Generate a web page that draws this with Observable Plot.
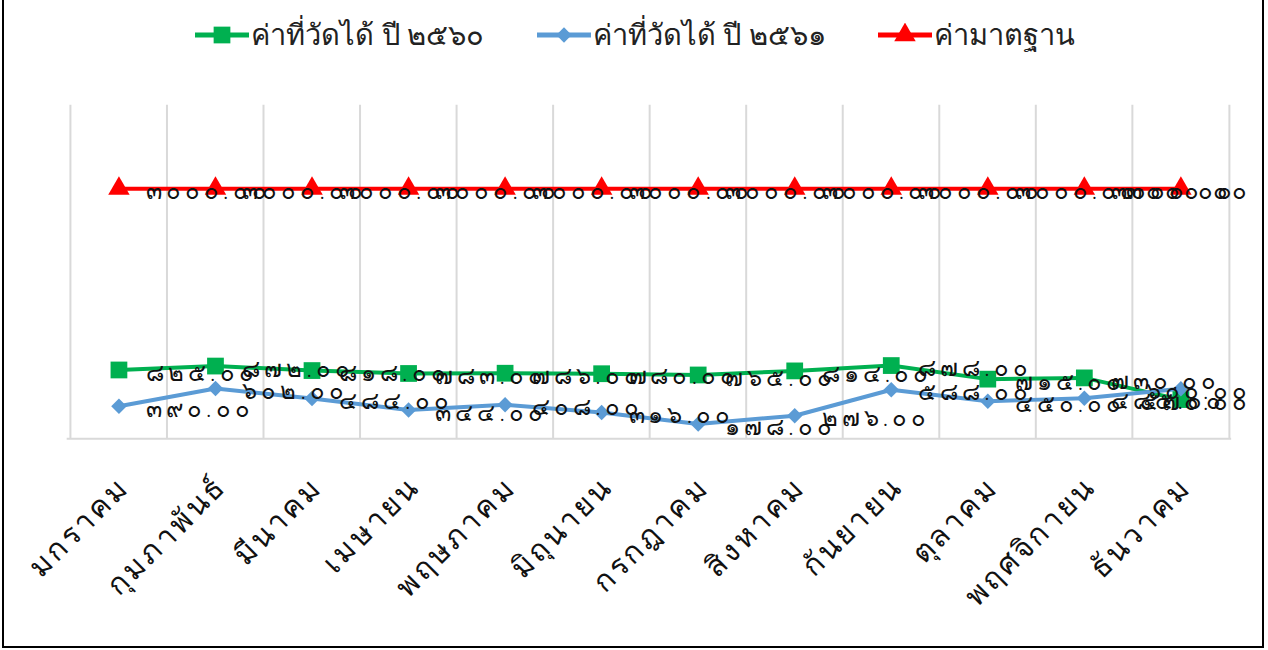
<!DOCTYPE html>
<html>
<head>
<meta charset="utf-8">
<script src="https://cdn.jsdelivr.net/npm/d3@7"></script>
<script src="https://cdn.jsdelivr.net/npm/@observablehq/plot@0.6"></script>
<style>
  html, body { margin: 0; padding: 0; background: #fff; }
  #frame { position: absolute; left: 2px; top: -2px; width: 1262px; height: 650px; box-sizing: border-box; border: 2px solid #000; background:#fff; overflow: hidden; }
  #legend { position: absolute; left: -4px; top: 12px; width: 1268px; display: flex; justify-content: center; gap: 50px; font-family: "Noto Sans", sans-serif; font-size: 29px; font-weight: 300; color: #222; }
  .item { display: flex; align-items: center; }
  .item svg { margin-right: 0px; }
  #chart { position: absolute; left: -4px; top: 70px; }
</style>
</head>
<body>
<div id="frame">
  <div id="legend"></div>
  <div id="chart"></div>
</div>
<script>
const months = ["มกราคม","กุมภาพันธ์","มีนาคม","เมษายน","พฤษภาคม","มิถุนายน","กรกฎาคม","สิงหาคม","กันยายน","ตุลาคม","พฤศจิกายน","ธันวาคม"];
const v2560 = [825, 872, 818, 783, 786, 780, 765, 814, 878, 715, 730, 470];
const v2561 = [390, 602, 484, 344, 408, 316, 178, 276, 588, 450, 485, 600];
const standard = [3000, 3000, 3000, 3000, 3000, 3000, 3000, 3000, 3000, 3000, 3000, 3000];
const seriesNames = ["ค่าที่วัดได้ ปี ๒๕๖๐", "ค่าที่วัดได้ ปี ๒๕๖๑", "ค่ามาตฐาน"];
const colors = ["#00b050", "#5b9bd5", "#ff0000"];

const thaiDigits = "๐๑๒๓๔๕๖๗๘๙";
const toThai = s => s.replace(/[0-9]/g, d => thaiDigits[+d]);

const allValues = [v2560, v2561, standard];
const rows = [];
allValues.forEach((arr, si) => arr.forEach((v, i) => rows.push({series: seriesNames[si], month: months[i], value: v, si, last: i === arr.length - 1})));

const step = (1237 - 67) / 12;
const font = "'Noto Sans', sans-serif";
const labelText = d => toThai(d.value.toFixed(2));

const chart = Plot.plot({
  width: 1268,
  height: 570,
  marginLeft: 67,
  marginRight: 31,
  marginTop: 35,
  marginBottom: 200,
  style: {fontFamily: font, background: "transparent"},
  x: {type: "point", domain: months, padding: 0.5, label: null},
  y: {domain: [0, 4000], axis: null},
  marks: [
    Plot.ruleX(months, {x: d => d, dx: -step / 2, y1: 0, y2: 4000, stroke: "#d9d9d9", strokeWidth: 2}),
    Plot.ruleX([months[11]], {x: d => d, dx: step / 2, y1: 0, y2: 4000, stroke: "#d9d9d9", strokeWidth: 2}),
    Plot.ruleY([0], {stroke: "#d9d9d9", strokeWidth: 2}),
    Plot.axisX({tickSize: 0, tickRotate: -45, tickPadding: 43, dx: 6, fontSize: 30, fontWeight: 300, fill: "#111", label: null}),
    ...[0, 1, 2].map(si => Plot.line(rows.filter(r => r.si === si), {x: "month", y: "value", stroke: colors[si], strokeWidth: 4})),
    Plot.dot(rows.filter(r => r.si === 0), {x: "month", y: "value", symbol: "square", r: 9.5, fill: colors[0], stroke: "none"}),
    Plot.dot(rows.filter(r => r.si === 1), {x: "month", y: "value", symbol: "diamond2", r: 7, fill: colors[1], stroke: "none"}),
    Plot.dot(rows.filter(r => r.si === 2), {x: "month", y: "value", symbol: "triangle", r: 8, fill: colors[2], stroke: "none"}),
    Plot.text(rows.filter(r => !r.last), {x: "month", y: "value", text: labelText, textAnchor: "start", dx: 27, dy: 3, fontSize: 24, fontWeight: 300, fill: "#111"}),
    Plot.text(rows.filter(r => r.last), {x: "month", y: "value", text: labelText, textAnchor: "end", dx: 70, dy: 3, fontSize: 24, fontWeight: 300, fill: "#111"})
  ]
});
d3.select(chart).selectAll('g[aria-label="text"] text').attr("letter-spacing", "4px");
d3.select(chart).selectAll('g[aria-label="x-axis tick label"] text').attr("letter-spacing", "3px");
document.getElementById("chart").appendChild(chart);

const legend = document.getElementById("legend");
seriesNames.forEach((name, si) => {
  const item = document.createElement("div");
  item.className = "item";
  const sw = d3.create("svg").attr("width", 58).attr("height", 24);
  sw.append("line").attr("x1", 2).attr("x2", 56).attr("y1", 12).attr("y2", 12).attr("stroke", colors[si]).attr("stroke-width", 5);
  const sym = [d3.symbolSquare, d3.symbolDiamond2, d3.symbolTriangle][si];
  const size = [280, 150, 200][si];
  sw.append("path").attr("d", d3.symbol(sym, size)()).attr("transform", "translate(29,12)").attr("fill", colors[si]);
  item.appendChild(sw.node());
  const span = document.createElement("span");
  span.textContent = name;
  item.appendChild(span);
  legend.appendChild(item);
});
</script>
</body>
</html>
